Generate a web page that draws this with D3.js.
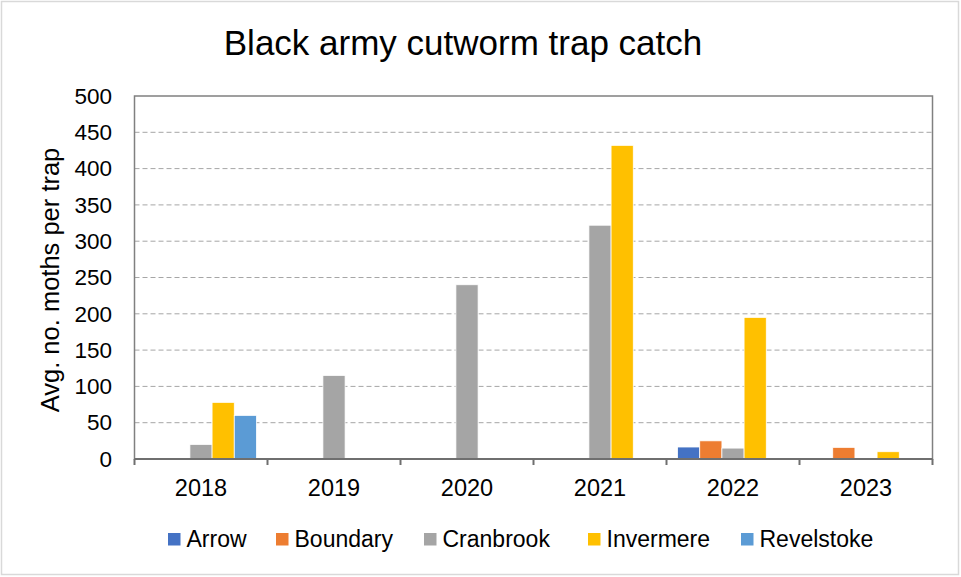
<!DOCTYPE html>
<html><head><meta charset="utf-8">
<script src="https://cdn.jsdelivr.net/npm/d3@7"></script>
<style>body{margin:0;background:#fff;}svg{display:block;font-family:"Liberation Sans",Arial,sans-serif;}</style>
</head><body>
<svg id="c" width="961" height="577"></svg>
<script>
const years = ["2018","2019","2020","2021","2022","2023"];
const seriesNames = ["Arrow","Boundary","Cranbrook","Invermere","Revelstoke"];
const seriesColors = ["#4472C4","#ED7D31","#A5A5A5","#FFC000","#5B9BD5"];
const arrow      = [0, 0, 0, 0, 16.5, 0];
const boundary   = [0, 0, 0, 0, 25, 16];
const cranbrook  = [20, 115, 240, 322, 15, 0];
const invermere  = [78, 0, 0, 432, 195, 10];
const revelstoke = [60, 0, 0, 0, 0, 0];
const yTicks = [0,50,100,150,200,250,300,350,400,450,500];
const seriesValues = [arrow, boundary, cranbrook, invermere, revelstoke];

const svg = d3.select("#c");
const L = 134.5, R = 932.5, T = 96, B = 459;

svg.append("rect").attr("x",1.5).attr("y",1.5).attr("width",957).attr("height",573)
  .attr("fill","#fff").attr("stroke","#d9d9d9").attr("stroke-width",1.5);

const x0 = d3.scaleBand().domain(years).range([L,R]).paddingInner(0).paddingOuter(0);
const x1 = d3.scaleBand().domain(seriesNames).range([0,x0.bandwidth()]).paddingInner(0).paddingOuter(0.5);
const y = d3.scaleLinear().domain([0,500]).range([B,T]);

// gridlines
svg.append("g").selectAll("line").data(yTicks.filter(d=>d>0 && d<500)).join("line")
  .attr("x1",L).attr("x2",R).attr("y1",d=>y(d)).attr("y2",d=>y(d))
  .attr("stroke","#a6a6a6").attr("stroke-width",1).attr("stroke-dasharray","5,3");

// bars
const g = svg.append("g");
seriesNames.forEach((s,i)=>{
  g.append("g").selectAll("rect").data(years.map((yr,j)=>({yr,v:seriesValues[i][j]})).filter(d=>d.v>0)).join("rect")
    .attr("x",d=>x0(d.yr)+x1(s)).attr("width",x1.bandwidth())
    .attr("y",d=>y(d.v)).attr("height",d=>B-y(d.v))
    .attr("fill",seriesColors[i]).attr("stroke","#fff").attr("stroke-width",0.75);
});

// plot border
svg.append("rect").attr("x",L).attr("y",T).attr("width",R-L).attr("height",B-T)
  .attr("fill","none").attr("stroke","#808080").attr("stroke-width",1.5);

// x axis
const xa = svg.append("g").attr("transform",`translate(0,${B})`);
xa.append("line").attr("x1",L).attr("x2",R).attr("y1",0).attr("y2",0).attr("stroke","#6f6f6f").attr("stroke-width",2);
xa.selectAll("line.tk").data(d3.range(years.length+1)).join("line").attr("class","tk")
  .attr("x1",i=>L+i*x0.step()).attr("x2",i=>L+i*x0.step()).attr("y1",0).attr("y2",6)
  .attr("stroke","#6f6f6f").attr("stroke-width",2);
xa.selectAll("text").data(years).join("text")
  .attr("x",d=>x0(d)+x0.bandwidth()/2).attr("y",37).attr("text-anchor","middle")
  .attr("font-size",23.5).attr("fill","#000").text(d=>d);

// y axis labels
const yAxis = d3.axisLeft(y).tickValues(yTicks).tickSize(0).tickPadding(22.5);
const ya = svg.append("g").attr("transform",`translate(${L},0)`).call(yAxis);
ya.select(".domain").remove();
ya.selectAll("text").attr("font-size",22.5).attr("fill","#000").attr("font-family","Liberation Sans, Arial, sans-serif");

// y title
svg.append("text").attr("transform",`translate(59,280) rotate(-90)`)
  .attr("text-anchor","middle").attr("font-size",25.5).attr("fill","#000").text("Avg. no. moths per trap");

// title
svg.append("text").attr("x",463).attr("y",55).attr("text-anchor","middle")
  .attr("font-size",35).attr("fill","#000").text("Black army cutworm trap catch");

// legend
const legX = [168,276,424,588,741];
const lg = svg.append("g");
seriesNames.forEach((s,i)=>{
  lg.append("rect").attr("x",legX[i]).attr("y",533).attr("width",12.5).attr("height",12.5).attr("fill",seriesColors[i]);
  lg.append("text").attr("x",legX[i]+18.5).attr("y",547).attr("font-size",23).attr("fill","#000").text(s);
});
</script>
</body></html>
